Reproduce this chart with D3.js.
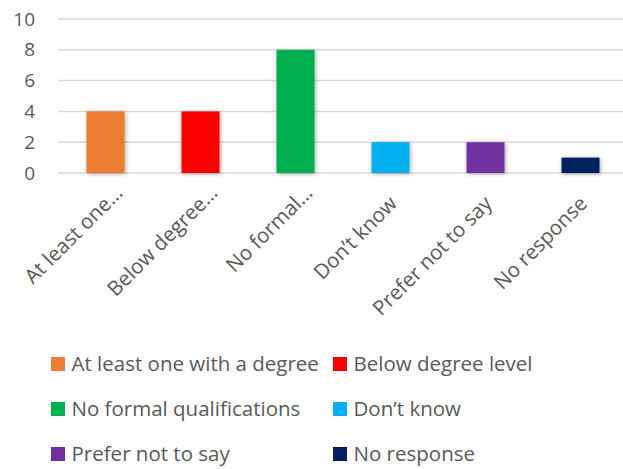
<!DOCTYPE html>
<html>
<head>
<meta charset="utf-8">
<script src="https://cdn.jsdelivr.net/npm/d3@7"></script>
<style>
  body { margin: 0; background: #fff; }
  text { font-family: "Open Sans", sans-serif; fill: #595959; }
</style>
</head>
<body>
<div id="chart"></div>
<script>
// chart data
const categories = ["At least one with a degree", "Below degree level", "No formal qualifications",
                    "Don\u2019t know", "Prefer not to say", "No response"]
const axisLabels = ["At least one\u2026", "Below degree\u2026", "No formal\u2026",
                    "Don\u2019t know", "Prefer not to say", "No response"]
const counts = [4, 4, 8, 2, 2, 1]
const colours = ["#ED7D31", "#FF0000", "#00B050", "#00B0F0", "#7030A0", "#002060"]
const yTicks = [0, 2, 4, 6, 8, 10]

const width = 623, height = 469

const svg = d3.select("#chart")
  .append("svg")
    .attr("width", width)
    .attr("height", height)

const shadow = svg.append("defs").append("filter")
    .attr("id", "shadow")
    .attr("x", "-30%").attr("y", "-30%")
    .attr("width", "160%").attr("height", "160%")
shadow.append("feDropShadow")
    .attr("dx", 1).attr("dy", 1)
    .attr("stdDeviation", 2)
    .attr("flood-color", "#000")
    .attr("flood-opacity", 0.35)

const xScale = d3.scaleBand().domain(categories).range([58, 628]).paddingInner(0.6).paddingOuter(0.3)
const yScale = d3.scaleLinear().domain([0, 10]).range([173, 19])

// gridlines
svg.append("g")
  .selectAll("line")
  .data(yTicks)
  .enter()
  .append("line")
    .attr("x1", 58)
    .attr("x2", width)
    .attr("y1", d => yScale(d))
    .attr("y2", d => yScale(d))
    .attr("stroke", "#d9d9d9")
    .attr("stroke-width", 1.5)

// y axis labels
const yAxis = svg.append("g")
    .attr("transform", "translate(40,0)")
    .call(d3.axisLeft(yScale).tickValues(yTicks).tickSize(0).tickPadding(5))
yAxis.select(".domain").remove()
yAxis.selectAll("text")
    .style("font-family", "'Open Sans', sans-serif")
    .style("font-size", "19px")
    .attr("fill", "#595959")

// bars
svg.append("g")
  .selectAll("rect")
  .data(categories)
  .enter()
  .append("rect")
    .attr("x", d => xScale(d))
    .attr("y", (d, i) => yScale(counts[i]))
    .attr("width", xScale.bandwidth())
    .attr("height", (d, i) => yScale(0) - yScale(counts[i]))
    .attr("fill", (d, i) => colours[i])
    .attr("filter", "url(#shadow)")

// x axis labels, rotated; truncated ones sit a bit further along
const xAxis = svg.append("g")
    .attr("transform", "translate(0,173)")
    .call(d3.axisBottom(xScale).tickSize(0).tickFormat((d, i) => axisLabels[i]))
xAxis.select(".domain").remove()
xAxis.selectAll("text")
    .style("font-family", "'Open Sans', sans-serif")
    .style("font-size", "20.5px")
    .attr("fill", "#595959")
    .style("text-anchor", "end")
    .attr("x", (d, i) => axisLabels[i].endsWith("\u2026") ? -2 : -17)
    .attr("y", 28)
    .attr("dy", 0)
    .attr("transform", "rotate(-45)")

// legend
const legendItems = svg.append("g")
  .selectAll("g")
  .data(categories)
  .enter()
  .append("g")
    .attr("transform", (d, i) => `translate(${i % 2 === 0 ? 51 : 333}, ${364 + Math.floor(i / 2) * 45})`)
legendItems.append("rect")
    .attr("x", 0)
    .attr("y", -7)
    .attr("width", 14)
    .attr("height", 14)
    .attr("fill", (d, i) => colours[i])
legendItems.append("text")
    .attr("x", 20.5)
    .attr("y", 0)
    .attr("dy", "0.35em")
    .style("font-size", "20.5px")
    .text(d => d)
</script>
</body>
</html>
